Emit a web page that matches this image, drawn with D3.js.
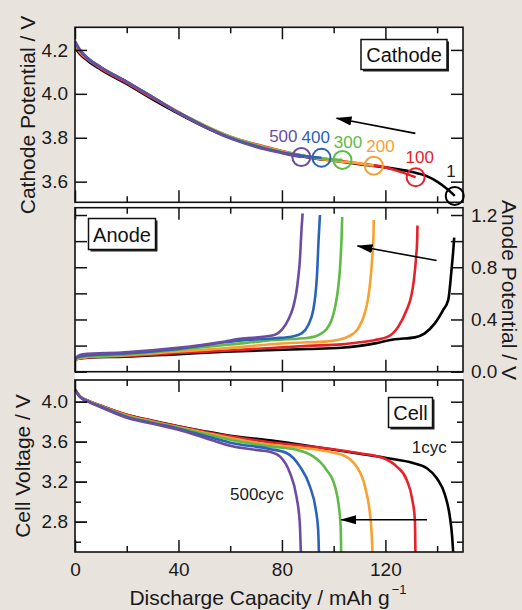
<!DOCTYPE html>
<html>
<head>
<meta charset="utf-8">
<script src="https://cdn.jsdelivr.net/npm/d3@7"></script>
<style>
  body { margin: 0; background: #e9e3dd; }
  svg { display: block; font-family: "Liberation Sans", Arial, sans-serif; }
</style>
</head>
<body>
<div id="chart"></div>
<script>
// ---- data: [capacity mAh/g, potential V] ----

const cycles = ["1", "100", "200", "300", "400", "500"];
const cycleColors = ["#000000", "#e62129", "#f7a131", "#5dbb46", "#2a63b8", "#6b4c9f"];

const cathode1 = [[0,4.21],[2,4.18],[5,4.15],[10,4.11],[20,4.045],[30,3.975],[40,3.91],[50,3.85],[60,3.80],[70,3.765],[80,3.735],[90,3.71],[100,3.695],[110,3.68],[120,3.665],[130,3.645],[136,3.625],[140,3.60],[143.5,3.57],[145.5,3.55],[146.8,3.535]];
const cathode100 = [[0,4.22],[2,4.185],[5,4.155],[10,4.115],[20,4.05],[30,3.98],[40,3.915],[50,3.855],[60,3.805],[70,3.77],[80,3.74],[90,3.715],[100,3.698],[110,3.682],[120,3.665],[127,3.64],[131.7,3.62]];
const cathode200 = [[0,4.225],[2,4.19],[5,4.16],[10,4.12],[20,4.055],[30,3.985],[40,3.918],[50,3.857],[60,3.805],[70,3.768],[80,3.738],[90,3.713],[100,3.695],[110,3.683],[115.5,3.673]];
const cathode300 = [[0,4.23],[2,4.195],[5,4.16],[10,4.12],[20,4.055],[30,3.985],[40,3.915],[50,3.855],[60,3.803],[70,3.765],[80,3.735],[90,3.715],[98,3.703],[103.4,3.699]];
const cathode400 = [[0,4.235],[2,4.195],[5,4.16],[10,4.12],[20,4.055],[30,3.985],[40,3.915],[50,3.853],[60,3.80],[70,3.762],[80,3.733],[88,3.718],[95.3,3.709]];
const cathode500 = [[0,4.24],[2,4.2],[5,4.163],[10,4.122],[20,4.055],[30,3.985],[40,3.913],[50,3.85],[60,3.797],[70,3.758],[80,3.73],[87.5,3.712]];

const anode1 = [[0,0.085],[1,0.1],[5,0.108],[19.3,0.115],[38.6,0.133],[58,0.153],[77.3,0.166],[90,0.174],[103,0.184],[110,0.198],[116,0.217],[120,0.235],[123.6,0.248],[131.4,0.263],[135.2,0.294],[139.1,0.37],[142.3,0.472],[144.3,0.55],[145.5,0.767],[146.2,0.92],[146.6,1.027]];
const anode100 = [[0,0.085],[1,0.1],[5,0.11],[19.3,0.12],[38.6,0.141],[58,0.161],[77.3,0.184],[90,0.198],[103,0.209],[110,0.225],[116,0.243],[121,0.268],[125,0.345],[128.2,0.472],[130,0.58],[131,0.7],[131.8,0.86],[132.3,1.02],[132.4,1.12]];
const anode200 = [[0,0.085],[1,0.1],[5,0.112],[19.3,0.125],[38.6,0.153],[58,0.179],[77.3,0.212],[90,0.225],[96.6,0.23],[102,0.245],[105.6,0.268],[109.5,0.332],[112,0.447],[113.3,0.56],[114.2,0.7],[114.9,0.87],[115.4,1.05],[115.5,1.162]];
const anode300 = [[0,0.09],[1,0.105],[5,0.118],[19.3,0.13],[38.6,0.166],[58,0.204],[64.4,0.217],[77.3,0.243],[90.2,0.26],[95.3,0.294],[99.2,0.396],[100.6,0.5],[101.6,0.62],[102.4,0.78],[103.1,1.05],[103.3,1.185]];
const anode400 = [[0,0.095],[1,0.112],[5,0.125],[19.3,0.14],[38.6,0.172],[58,0.225],[64.4,0.24],[77.3,0.256],[84,0.27],[87.6,0.294],[90.2,0.358],[92.1,0.472],[92.9,0.58],[93.5,0.72],[94.2,1.02],[94.7,1.2]];
const anode500 = [[0,0.095],[1,0.118],[3,0.133],[19.3,0.148],[38.6,0.181],[58,0.232],[63,0.25],[70,0.262],[77.3,0.283],[79.9,0.32],[82.4,0.396],[84.4,0.498],[85.5,0.6],[86.3,0.72],[86.9,0.843],[87.6,1.1],[88,1.213]];

const cell1 = [[0,4.12],[2,4.05],[5,4.01],[10,3.96],[20,3.87],[30,3.81],[40,3.755],[50,3.705],[60,3.66],[75.3,3.613],[90,3.56],[100,3.52],[110,3.48],[120.4,3.437],[130.7,3.387],[135.9,3.337],[139.8,3.237],[143,3.07],[144.9,2.853],[145.8,2.653],[146.2,2.497]];
const cell100 = [[0,4.12],[2,4.05],[5,4.01],[10,3.96],[20,3.87],[30,3.808],[40,3.753],[50,3.70],[60,3.653],[75.3,3.595],[90,3.555],[101.1,3.52],[110,3.485],[119.1,3.437],[124.3,3.353],[128.2,3.22],[130.4,3.02],[131.4,2.82],[131.6,2.497]];
const cell200 = [[0,4.12],[2,4.05],[5,4.008],[10,3.955],[20,3.862],[30,3.8],[40,3.745],[50,3.69],[60,3.637],[75.3,3.57],[85,3.545],[94.7,3.515],[100,3.49],[103.7,3.465],[106.5,3.42],[108.8,3.353],[112.1,3.153],[114,2.887],[114.6,2.72],[115,2.497]];
const cell300 = [[0,4.12],[2,4.048],[5,4.005],[10,3.952],[20,3.855],[30,3.795],[40,3.74],[50,3.68],[60,3.62],[75.3,3.553],[85.6,3.52],[92.1,3.453],[95,3.39],[97.2,3.32],[100.5,3.153],[102,2.953],[102.7,2.753],[102.9,2.497]];
const cell400 = [[0,4.12],[2,4.046],[5,4.003],[10,3.95],[20,3.848],[30,3.788],[40,3.73],[50,3.66],[60,3.59],[75.3,3.527],[81.8,3.487],[86.9,3.353],[90.8,3.153],[93.1,2.92],[94,2.72],[94.3,2.497]];
const cell500 = [[0,4.12],[2,4.045],[5,4.0],[10,3.945],[20,3.84],[30,3.78],[40,3.72],[50,3.64],[60,3.56],[71.5,3.513],[75.3,3.50],[79.2,3.453],[83.1,3.287],[85.6,3.053],[86.9,2.787],[87.3,2.497]];

const cathodeSeries = [cathode1, cathode100, cathode200, cathode300, cathode400, cathode500];
const anodeSeries = [anode1, anode100, anode200, anode300, anode400, anode500];
const cellSeries = [cell1, cell100, cell200, cell300, cell400, cell500];

const capMajorTicks = [0, 40, 80, 120];
const capMinorTicks = [20, 60, 100, 140];
const cathodeTicks = [3.6, 3.8, 4.0, 4.2];
const anodeTicks = [0.0, 0.4, 0.8, 1.2];
const anodeMinorTicks = [0.2, 0.6, 1.0];
const cellTicks = [2.8, 3.2, 3.6, 4.0];
const cellMinorTicks = [2.6, 3.0, 3.4, 3.8];

// ---- layout ----
const width = 522, height = 610;
const left = 75, right = 463;
const bigTick = 12, smallTick = 6;
const tickFont = "19px", titleFont = "21px";

const svg = d3.select("#chart").append("svg")
  .attr("width", width)
  .attr("height", height);

svg.append("rect").attr("width", width).attr("height", height).attr("fill", "#e9e3dd");
svg.append("rect").attr("x", left).attr("y", 27).attr("width", right - left).attr("height", 525).attr("fill", "#fff");

const x = d3.scaleLinear().domain([0, 150]).range([left, right]);

const panels = [
  {name: "cathode", top: 27.3, bottom: 202.3, domain: [3.506, 4.303], series: cathodeSeries},
  {name: "anode", top: 207.7, bottom: 371.7, domain: [0, 1.256], series: anodeSeries},
  {name: "cell", top: 380, bottom: 552, domain: [2.497, 4.217], series: cellSeries}
];
panels.forEach(p => {
  p.y = d3.scaleLinear().domain(p.domain).range([p.bottom, p.top]);
});
const [pCathode, pAnode, pCell] = panels;

// arrowhead
svg.append("defs").append("marker")
  .attr("id", "head")
  .attr("markerUnits", "userSpaceOnUse")
  .attr("viewBox", "0 -5 16 10")
  .attr("refX", 15).attr("refY", 0)
  .attr("markerWidth", 16).attr("markerHeight", 10)
  .attr("orient", "auto")
  .append("path").attr("d", "M0,-4.5L16,0L0,4.5Z").attr("fill", "#000");

// ---- curves ----
panels.forEach((p, pi) => {
  svg.select("defs").append("clipPath").attr("id", "clip" + pi)
    .append("rect").attr("x", left).attr("y", p.top)
    .attr("width", right - left).attr("height", p.bottom - p.top);

  const line = d3.line()
    .x(d => x(d[0]))
    .y(d => p.y(d[1]))
    .curve(d3.curveMonotoneX);

  svg.append("g").attr("clip-path", `url(#clip${pi})`)
    .selectAll("path")
    .data(p.series)
    .join("path")
      .attr("d", line)
      .attr("fill", "none")
      .attr("stroke", (d, i) => cycleColors[i])
      .attr("stroke-width", 2.6)
      .attr("stroke-linejoin", "round");
});

// ---- frames and ticks ----
function styleAxis(g) {
  g.select(".domain").remove();
  g.selectAll(".tick line").attr("stroke", "#111").attr("stroke-width", 1.5);
  g.selectAll("text").attr("fill", "#1a1a1a").attr("font-size", tickFont)
    .attr("font-family", '"Liberation Sans", Arial, sans-serif');
}

panels.forEach(p => {
  // x ticks, top and bottom edges, pointing inward
  [[capMajorTicks, bigTick], [capMinorTicks, smallTick]].forEach(([vals, len]) => {
    svg.append("g").attr("transform", `translate(0,${p.top})`)
      .call(d3.axisTop(x).tickValues(vals).tickSize(-len).tickFormat(""))
      .call(styleAxis);
    svg.append("g").attr("transform", `translate(0,${p.bottom})`)
      .call(d3.axisBottom(x).tickValues(vals).tickSize(-len).tickFormat(""))
      .call(styleAxis);
  });
  svg.append("rect")
    .attr("x", left).attr("y", p.top)
    .attr("width", right - left).attr("height", p.bottom - p.top)
    .attr("fill", "none").attr("stroke", "#111").attr("stroke-width", 1.6);
});

// capacity labels under the cell panel
svg.append("g").attr("transform", `translate(0,${pCell.bottom})`)
  .call(d3.axisBottom(x).tickValues(capMajorTicks).tickSize(0).tickPadding(11))
  .call(styleAxis);

// cathode y: ticks both sides, labels left
svg.append("g").attr("transform", `translate(${left},0)`)
  .call(d3.axisLeft(pCathode.y).tickValues(cathodeTicks).tickSize(-bigTick).tickPadding(7).tickFormat(d3.format(".1f")))
  .call(styleAxis);
svg.append("g").attr("transform", `translate(${right},0)`)
  .call(d3.axisRight(pCathode.y).tickValues(cathodeTicks).tickSize(-bigTick).tickFormat(""))
  .call(styleAxis);

// anode y: ticks both sides, labels right
[[anodeTicks, d3.format(".1f")], [anodeMinorTicks, () => ""]].forEach(([vals, fmt]) => {
  svg.append("g").attr("transform", `translate(${left},0)`)
    .call(d3.axisLeft(pAnode.y).tickValues(vals).tickSize(-bigTick).tickFormat(""))
    .call(styleAxis);
  svg.append("g").attr("transform", `translate(${right},0)`)
    .call(d3.axisRight(pAnode.y).tickValues(vals).tickSize(-bigTick).tickPadding(8).tickFormat(fmt))
    .call(styleAxis);
});

// cell y: major/minor both sides, labels left
svg.append("g").attr("transform", `translate(${left},0)`)
  .call(d3.axisLeft(pCell.y).tickValues(cellTicks).tickSize(-bigTick).tickPadding(7).tickFormat(d3.format(".1f")))
  .call(styleAxis);
[[cellTicks, bigTick], [cellMinorTicks, smallTick]].forEach(([vals, len]) => {
  svg.append("g").attr("transform", `translate(${left},0)`)
    .call(d3.axisLeft(pCell.y).tickValues(vals).tickSize(-len).tickFormat(""))
    .call(styleAxis);
  svg.append("g").attr("transform", `translate(${right},0)`)
    .call(d3.axisRight(pCell.y).tickValues(vals).tickSize(-len).tickFormat(""))
    .call(styleAxis);
});

// ---- axis titles ----
const titles = svg.append("g").attr("fill", "#1a1a1a").attr("font-size", titleFont);
titles.append("text")
  .attr("transform", "translate(35,115) rotate(-90)")
  .attr("text-anchor", "middle")
  .text("Cathode Potential / V");
titles.append("text")
  .attr("transform", "translate(30,466) rotate(-90)")
  .attr("text-anchor", "middle")
  .text("Cell Voltage / V");
titles.append("text")
  .attr("transform", "translate(502,290) rotate(90)")
  .attr("text-anchor", "middle")
  .text("Anode Potential / V");
const xTitle = titles.append("text")
  .attr("x", 268).attr("y", 605)
  .attr("text-anchor", "middle");
xTitle.append("tspan").text("Discharge Capacity / mAh g");
xTitle.append("tspan").attr("dx", 2).attr("dy", -11).attr("font-size", "13px").text("\u22121");

// ---- panel name boxes ----
function nameBox(bx, by, bw, bh, label) {
  const g = svg.append("g");
  g.append("rect").attr("x", bx + 2).attr("y", by + 2).attr("width", bw).attr("height", bh).attr("fill", "#222");
  g.append("rect").attr("x", bx).attr("y", by).attr("width", bw).attr("height", bh)
    .attr("fill", "#fff").attr("stroke", "#111").attr("stroke-width", 1.5);
  g.append("text").attr("x", bx + bw / 2).attr("y", by + bh / 2 + 7.5)
    .attr("text-anchor", "middle").attr("font-size", "20px").attr("fill", "#111").text(label);
}
nameBox(361, 39.5, 86, 30, "Cathode");
nameBox(88.5, 218.5, 67, 31, "Anode");
nameBox(388.5, 397.5, 44, 30, "Cell");

// ---- cathode end-of-discharge circles and cycle labels ----
const labelOffsets = [[-3.7, -19.3], [4, -14], [6.7, -14], [5.6, -12.3], [-5.7, -15], [-18, -15]];
cathodeSeries.forEach((s, i) => {
  const end = s[s.length - 1];
  const cx = x(end[0]), cy = pCathode.y(end[1]);
  svg.append("circle").attr("cx", cx).attr("cy", cy).attr("r", 9)
    .attr("fill", "none").attr("stroke", cycleColors[i]).attr("stroke-width", 2);
  svg.append("text")
    .attr("x", cx + labelOffsets[i][0]).attr("y", cy + labelOffsets[i][1])
    .attr("text-anchor", "middle").attr("font-size", "17px")
    .attr("fill", i === 0 ? "#222" : cycleColors[i])
    .text(cycles[i]);
});

// ---- arrows (data coordinates) ----
const arrows = [
  {p: pCathode, from: [131.6, 3.82], to: [101.1, 3.889]},
  {p: pAnode, from: [139.8, 0.851], to: [109.2, 0.963]},
  {p: pCell, from: [136.1, 2.82], to: [102.9, 2.82]}
];
arrows.forEach(a => {
  svg.append("line")
    .attr("x1", x(a.from[0])).attr("y1", a.p.y(a.from[1]))
    .attr("x2", x(a.to[0])).attr("y2", a.p.y(a.to[1]))
    .attr("stroke", "#000").attr("stroke-width", 1.6)
    .attr("marker-end", "url(#head)");
});

// ---- cell cycle labels ----
svg.append("text").attr("x", 411.7).attr("y", 453.3).attr("font-size", "17px").attr("fill", "#1a1a1a").text("1cyc");
svg.append("text").attr("x", 230).attr("y", 500).attr("font-size", "17px").attr("fill", "#1a1a1a").text("500cyc");
</script>
</body>
</html>
